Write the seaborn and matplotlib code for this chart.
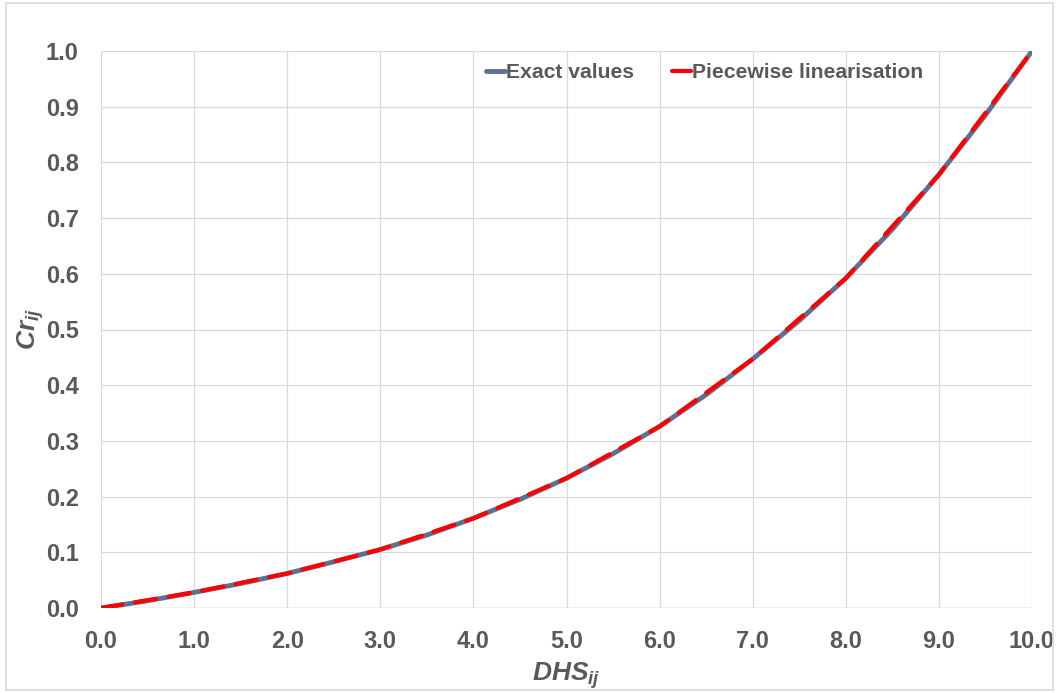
import matplotlib
matplotlib.use("Agg")
import matplotlib.pyplot as plt
import seaborn as sns
import pandas as pd
from matplotlib.patches import Rectangle

# Data
dhs_exact = [0.0, 0.5, 1.0, 1.5, 2.0, 2.5, 3.0, 3.5, 4.0, 4.5, 5.0,
             5.5, 6.0, 6.5, 7.0, 7.5, 8.0, 8.5, 9.0, 9.5, 10.0]
cr_exact = [0.0, 0.013, 0.028, 0.044, 0.062, 0.083, 0.105, 0.131, 0.161, 0.195, 0.233,
            0.277, 0.326, 0.383, 0.447, 0.516, 0.592, 0.680, 0.778, 0.885, 1.0]
dhs_pw = [0.0, 1.0, 2.0, 3.0, 4.0, 5.0, 6.0, 7.0, 8.0, 9.0, 10.0]
cr_pw = [0.0, 0.028, 0.062, 0.105, 0.161, 0.233, 0.326, 0.447, 0.592, 0.778, 1.0]
x_ticks = [0, 1, 2, 3, 4, 5, 6, 7, 8, 9, 10]
y_ticks = [0.0, 0.1, 0.2, 0.3, 0.4, 0.5, 0.6, 0.7, 0.8, 0.9, 1.0]
series_names = ["Exact values", "Piecewise linearisation"]

sns.set_theme(style="white")
plt.rcParams['font.family'] = ['Liberation Sans', 'DejaVu Sans']
plt.rcParams['mathtext.fontset'] = 'custom'
plt.rcParams['mathtext.it'] = 'Liberation Sans:italic:bold'
plt.rcParams['mathtext.rm'] = 'Liberation Sans:bold'
plt.rcParams['mathtext.bf'] = 'Liberation Sans:bold'

W, H = 1059, 693
fig = plt.figure(figsize=(W / 100, H / 100), dpi=100)
ax = fig.add_axes([101 / W, 1 - 608 / H, (1032 - 101) / W, (608 - 51) / H])

df_exact = pd.DataFrame({"x": dhs_exact, "y": cr_exact})
df_pw = pd.DataFrame({"x": dhs_pw, "y": cr_pw})

sns.lineplot(data=df_exact, x="x", y="y", ax=ax, color="#5e7091", linewidth=3.5,
             label=series_names[0], solid_capstyle="round")
sns.lineplot(data=df_pw, x="x", y="y", ax=ax, color="#ff0000", linewidth=3.0,
             label=series_names[1], dashes=(5.2, 3.0), dash_capstyle="round")

ax.set_xlim(0, 10)
ax.set_ylim(0, 1.0)
ax.set_xticks(x_ticks)
ax.set_yticks(y_ticks)
ax.set_xticklabels([f"{v:.1f}" for v in x_ticks])
ax.set_yticklabels([f"{v:.1f}" for v in y_ticks])
ax.grid(True, color="#d9d9d9", linewidth=0.9)
ax.set_axisbelow(True)
for s in ax.spines.values():
    s.set_visible(False)
ax.axhline(0, color="#d0d0d0", linewidth=1.0, zorder=0.5)

tick_color = "#595959"
ax.tick_params(axis="both", length=0, labelsize=17, labelcolor=tick_color)
ax.tick_params(axis="x", pad=16)
ax.tick_params(axis="y", pad=16)
for lbl in ax.get_xticklabels() + ax.get_yticklabels():
    lbl.set_fontweight("bold")

ax.set_xlabel(r"$DHS_{ij}$", fontsize=19, color=tick_color, labelpad=5)
ax.set_ylabel(r"$Cr_{ij}$", fontsize=19, color=tick_color, labelpad=-0.5)

leg = ax.legend(loc="upper center", bbox_to_anchor=(0.648, 1.012), ncol=2, frameon=False,
                handlelength=0.9, handletextpad=0.05, columnspacing=1.8,
                prop={"weight": "bold", "size": 15.2})
for t in leg.get_texts():
    t.set_color(tick_color)

fig.patches.append(Rectangle((6 / W, 3 / H), (1053 - 6) / W, (690 - 3) / H,
                             transform=fig.transFigure, fill=False,
                             edgecolor="#d9d9d9", linewidth=1.2))

fig.savefig("out.png", dpi=100)
